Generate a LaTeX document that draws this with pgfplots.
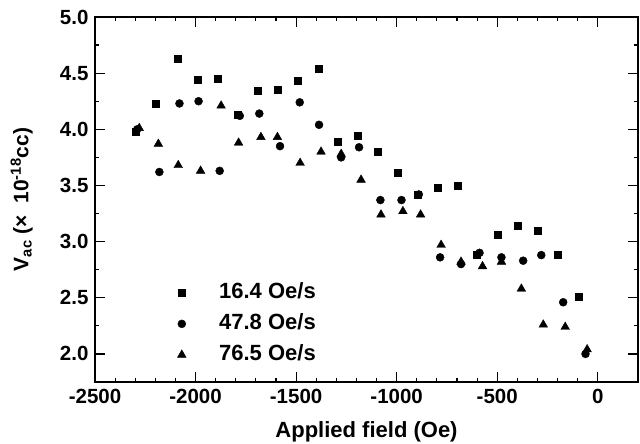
\documentclass[border=0pt]{standalone}
\usepackage{fontspec}
\setmainfont{Liberation Sans}
\usepackage{pgfplots}
\pgfplotsset{compat=1.18}
\begin{document}
\begin{tikzpicture}
\begin{axis}[
  scale only axis, width=543pt, height=365pt,
  xmin=-2500, xmax=200, ymin=1.75, ymax=5.0,
  xtick={-2500,-2000,-1500,-1000,-500,0},
  ytick={2,2.5,3,3.5,4,4.5,5},
  minor x tick num=4, minor y tick num=1,
  tick align=inside, major tick length=10pt, minor tick length=4pt,
  axis line style={line width=1.5pt},
  every tick/.style={black, line width=1.2pt},
  /pgf/number format/assume math mode=true,
  /pgf/number format/1000 sep={},
  tick label style={font=\fontsize{20.5}{22}\selectfont\bfseries},
  y tick label style={/pgf/number format/fixed,/pgf/number format/fixed zerofill,/pgf/number format/precision=1, xshift=-3pt},
  x tick label style={yshift=-4pt},
  xlabel={Applied field (Oe)},
  ylabel={V\textsubscript{ac} (×\ \ 10\textsuperscript{-18}cc)},
  every axis x label/.style={at={(axis description cs:0.5,-0.137)}, anchor=center, font=\fontsize{22}{24}\selectfont\bfseries},
  every axis y label/.style={at={(axis description cs:-0.135,0.5)}, anchor=center, rotate=90, font=\fontsize{21}{24}\selectfont\bfseries},
  legend style={draw=none, fill=none, at={(0.146,0.279)}, anchor=north west,
    font=\fontsize{22}{24}\selectfont\bfseries,
    nodes={inner sep=0pt, text height=16pt, text depth=5pt},
    row sep=10pt,
    /tikz/every odd column/.append style={column sep=33pt}},
  legend cell align=left,
  legend image code/.code={\draw[mark repeat=2,mark phase=2] plot coordinates {(0pt,0pt)(12pt,0pt)(24pt,0pt)};},
]
\addplot[only marks, mark=square*, mark size=3.5pt, black] coordinates {
(-2300,3.98) (-2200,4.23) (-2090,4.63) (-1990,4.44) (-1890,4.45) (-1790,4.13)
(-1690,4.34) (-1590,4.35) (-1490,4.43) (-1390,4.54) (-1295,3.89) (-1195,3.94)
(-1095,3.80) (-995,3.61) (-895,3.42) (-795,3.48) (-695,3.50) (-600,2.88)
(-498,3.06) (-400,3.14) (-297,3.10) (-198,2.88) (-96,2.51)
};
\addlegendentry{16.4 Oe/s}
\addplot[only marks, mark=*, mark size=4pt, black] coordinates {
(-2290,4.00) (-2180,3.62) (-2080,4.23) (-1985,4.25) (-1880,3.63) (-1780,4.12)
(-1683,4.14) (-1580,3.85) (-1482,4.24) (-1386,4.04) (-1276,3.75) (-1187,3.84)
(-1081,3.37) (-976,3.37) (-890,3.42) (-784,2.86) (-680,2.80) (-588,2.90)
(-479,2.86) (-371,2.83) (-281,2.88) (-172,2.46) (-61,2.00)
};
\addlegendentry{47.8 Oe/s}
\addplot[only marks, mark=triangle*, mark size=5pt, black] coordinates {
(-2280,4.01) (-2185,3.87) (-2086,3.68) (-1975,3.63) (-1873,4.21) (-1786,3.88)
(-1675,3.93) (-1593,3.93) (-1480,3.70) (-1376,3.80) (-1276,3.78) (-1177,3.55)
(-1078,3.24) (-969,3.27) (-881,3.24) (-779,2.97) (-680,2.82) (-573,2.78)
(-479,2.82) (-380,2.58) (-271,2.26) (-162,2.24) (-53,2.04)
};
\addlegendentry{76.5 Oe/s}
\end{axis}
\pgfresetboundingbox
\path (current axis.south west) ++(-95pt,-62pt) rectangle ++(640pt,444pt);
\end{tikzpicture}
\end{document}
